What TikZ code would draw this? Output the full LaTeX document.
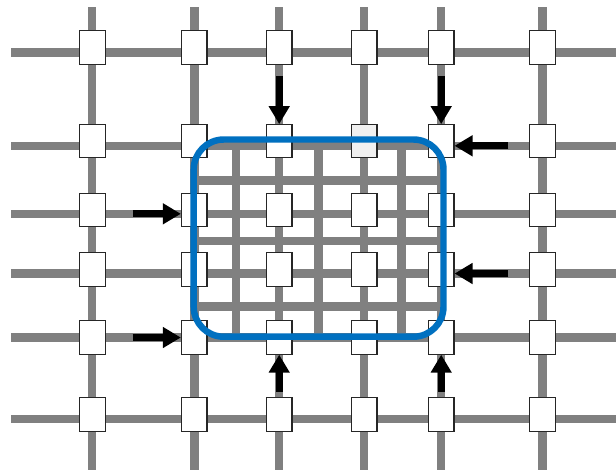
\documentclass[tikz,border=0pt]{standalone}
\usepackage{xcolor}
\usepackage{tikz}
\usetikzlibrary{calc}
\usetikzlibrary{arrows.meta}
\definecolor{bleuzone}{RGB}{0,112,192}
\tikzset{
	fil/.style={draw=black!50,line width=6pt},
	boite/.style={draw=black!85,fill=white,line width=0.8pt,inner sep=0pt,minimum width=0.64cm,minimum height=0.83cm},
	b24/.style={fill=black!6},
	fleche/.style={line width=4.8pt,-{Triangle[length=0.45cm,width=0.5cm]}},
	zone/.style={draw=bleuzone,line width=4.6pt,rounded corners=0.75cm}
}

\begin{document}
\begin{tikzpicture}[x=0.025cm,y=-0.025cm]
\useasboundingbox (0,0) rectangle (616,470);

%Fils principaux
\foreach \x in {92,194.5,279.2,364.2,441.2,542.7}
	\draw[fil] (\x,7) -- (\x,470);
\foreach \y in {52.5,145.8,213.8,273.5,337.5,419}
	\draw[fil] (11,\y) -- (616,\y);

%Grille fine dans la zone
\begin{scope}
\clip[rounded corners=0.75cm] (193.7,139.5) rectangle (443.5,336.7);
\foreach \x in {236.2,318.7,401.7}
	\draw[fil] (\x,139.5) -- (\x,336.7);
\foreach \y in {180.5,241,306.5}
	\draw[fil] (193.7,\y) -- (443.5,\y);
\end{scope}

%Boites aux noeuds
\foreach \y [count=\i] in {47.5,141.3,209.7,269.5,337.5,414.5}
	\foreach \x [count=\j] in {92.3,194.2,279.2,364.2,441.2,542.7}
		\node[boite,b\i\j/.try] (n-\i-\j) at (\x,\y) {};

%Zone bleue
\draw[zone] (193.7,139.5) rectangle (443.5,336.7);

%Fleches
\coordinate (h1) at (279.2,76);
\coordinate (h2) at (441.2,76);
\coordinate (d1) at (508.3,145.8);
\coordinate (d2) at (508.3,273.5);
\coordinate (g1) at (132.7,213.8);
\coordinate (g2) at (132.7,337.5);
\coordinate (b1) at (279.2,391.7);
\coordinate (b2) at (441.2,391.7);
\draw[fleche] (h1) -- (n-2-3.north);
\draw[fleche] (h2) -- (n-2-5.north);
\draw[fleche] (d1) -- (d1 -| n-2-5.east);
\draw[fleche] (d2) -- (d2 -| n-4-5.east);
\draw[fleche] (g1) -- (g1 -| n-3-2.west);
\draw[fleche] (g2) -- (g2 -| n-5-2.west);
\draw[fleche] (b1) -- (n-5-3.south);
\draw[fleche] (b2) -- (n-5-5.south);

\end{tikzpicture}
\end{document}
